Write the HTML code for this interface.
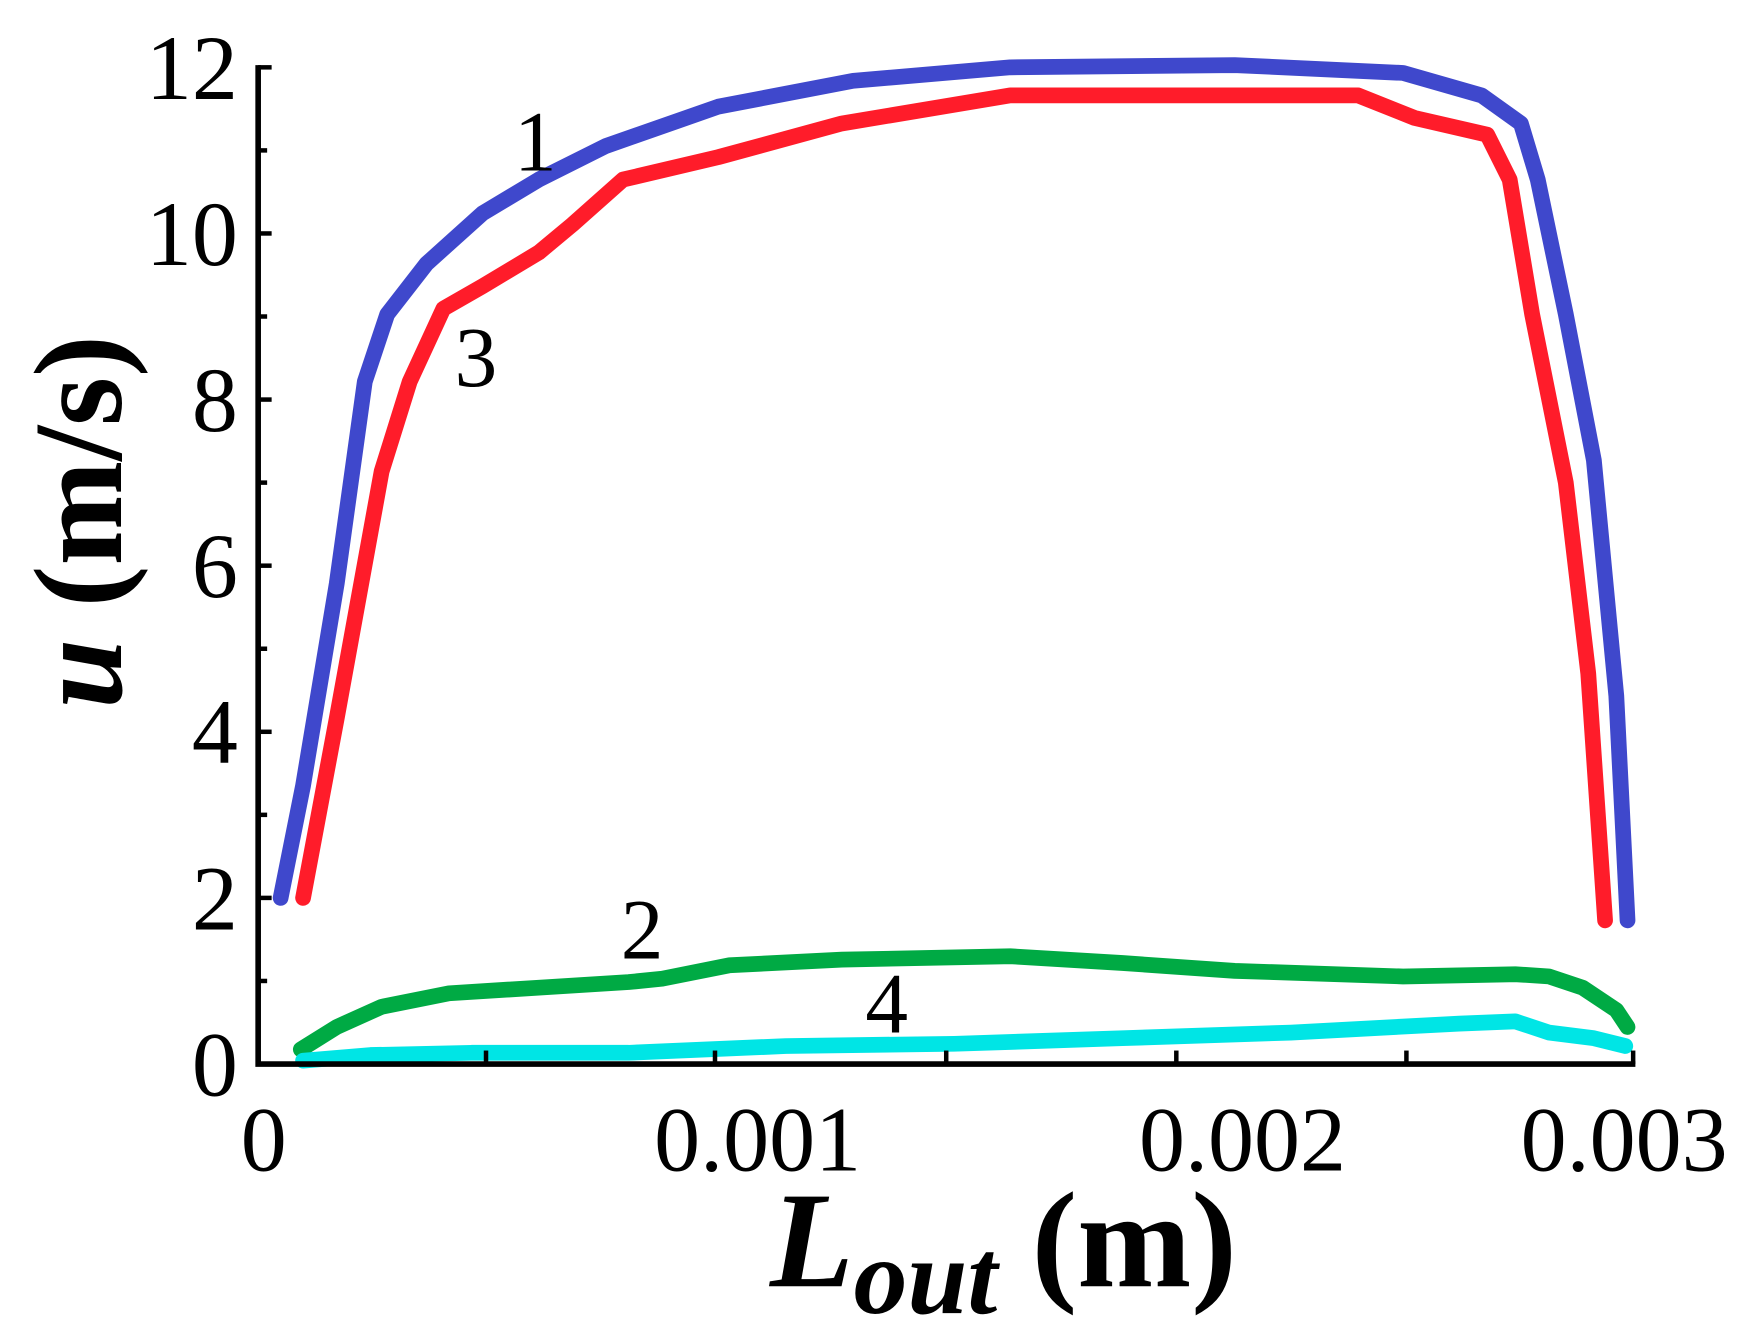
<!DOCTYPE html>
<html><head><meta charset="utf-8"><style>
html,body{margin:0;padding:0;background:#fff;}
svg{display:block;}
text{font-family:"Liberation Serif",serif;fill:#000;}
</style></head><body>
<svg width="1751" height="1339" viewBox="0 0 1560 1193" preserveAspectRatio="none" xmlns="http://www.w3.org/2000/svg">
<rect width="1560" height="1193" fill="#fff"/>
<g fill="none" stroke-linejoin="round" stroke-linecap="round" stroke-width="14">
<polyline stroke="#3f48cc" points="250,800 270,700 300,520 325,340 345,280 380,235 430,190 480,160 540,130 640,95 760,72 900,60 1100,58 1250,65 1320,85 1355,110 1370,160 1395,280 1420,410 1440,620 1450,820"/>
<polyline stroke="#ff1c2a" points="270,800 300,640 340,420 365,340 395,275 430,255 480,225 510,200 555,160 640,140 750,110 900,85 1100,85 1210,85 1260,105 1325,120 1345,160 1365,280 1395,430 1415,600 1430,820"/>
<polyline stroke="#00aa44" points="268,935 300,915 340,897 400,885 480,880 560,875 590,872 650,860 750,855 900,852 1000,858 1100,865 1250,870 1350,868 1380,870 1410,880 1440,900 1450,915"/>
<polyline stroke="#00e5e5" points="270,945 330,940 420,938 560,938 700,932 850,930 1000,925 1150,920 1300,912 1350,910 1380,920 1420,925 1448,932"/>
</g>
<g stroke="#000" stroke-width="5" fill="none">
<polyline points="230,58 230,948 1457,948"/>
<g stroke-width="4">
<line x1="230" y1="60" x2="242" y2="60"/><line x1="230" y1="134" x2="238" y2="134"/>
<line x1="230" y1="208" x2="242" y2="208"/><line x1="230" y1="282" x2="238" y2="282"/>
<line x1="230" y1="356" x2="242" y2="356"/><line x1="230" y1="430" x2="238" y2="430"/>
<line x1="230" y1="504" x2="242" y2="504"/><line x1="230" y1="578" x2="238" y2="578"/>
<line x1="230" y1="652" x2="242" y2="652"/><line x1="230" y1="726" x2="238" y2="726"/>
<line x1="230" y1="800" x2="242" y2="800"/><line x1="230" y1="874" x2="238" y2="874"/>
<line x1="433" y1="948" x2="433" y2="936"/><line x1="637" y1="948" x2="637" y2="936"/>
<line x1="843" y1="948" x2="843" y2="936"/><line x1="1048" y1="948" x2="1048" y2="936"/>
<line x1="1253" y1="948" x2="1253" y2="936"/><line x1="1455" y1="948" x2="1455" y2="936"/>
</g></g>
<g font-size="82" text-anchor="end">
<text x="212" y="88">12</text><text x="212" y="236">10</text><text x="212" y="384">8</text>
<text x="212" y="532">6</text><text x="212" y="680">4</text><text x="212" y="828">2</text><text x="212" y="976">0</text>
</g>
<g font-size="82" text-anchor="middle">
<text x="235" y="1043">0</text><text x="675" y="1043">0.001</text><text x="1107" y="1043">0.002</text><text x="1447" y="1043">0.003</text>
</g>
<g font-size="76" text-anchor="middle">
<text x="477" y="152">1</text><text x="424" y="344">3</text><text x="572" y="854">2</text><text x="790" y="920">4</text>
</g>
<text x="686" y="1146" font-size="122" font-weight="bold" font-style="italic">L<tspan font-size="96" dy="24">out</tspan><tspan dy="-24" font-style="normal"> (m)</tspan></text>
<text transform="translate(108,465) rotate(-90)" text-anchor="middle" font-size="112" font-weight="bold"><tspan font-style="italic">u</tspan> (m/s)</text>
</svg>
</body></html>
